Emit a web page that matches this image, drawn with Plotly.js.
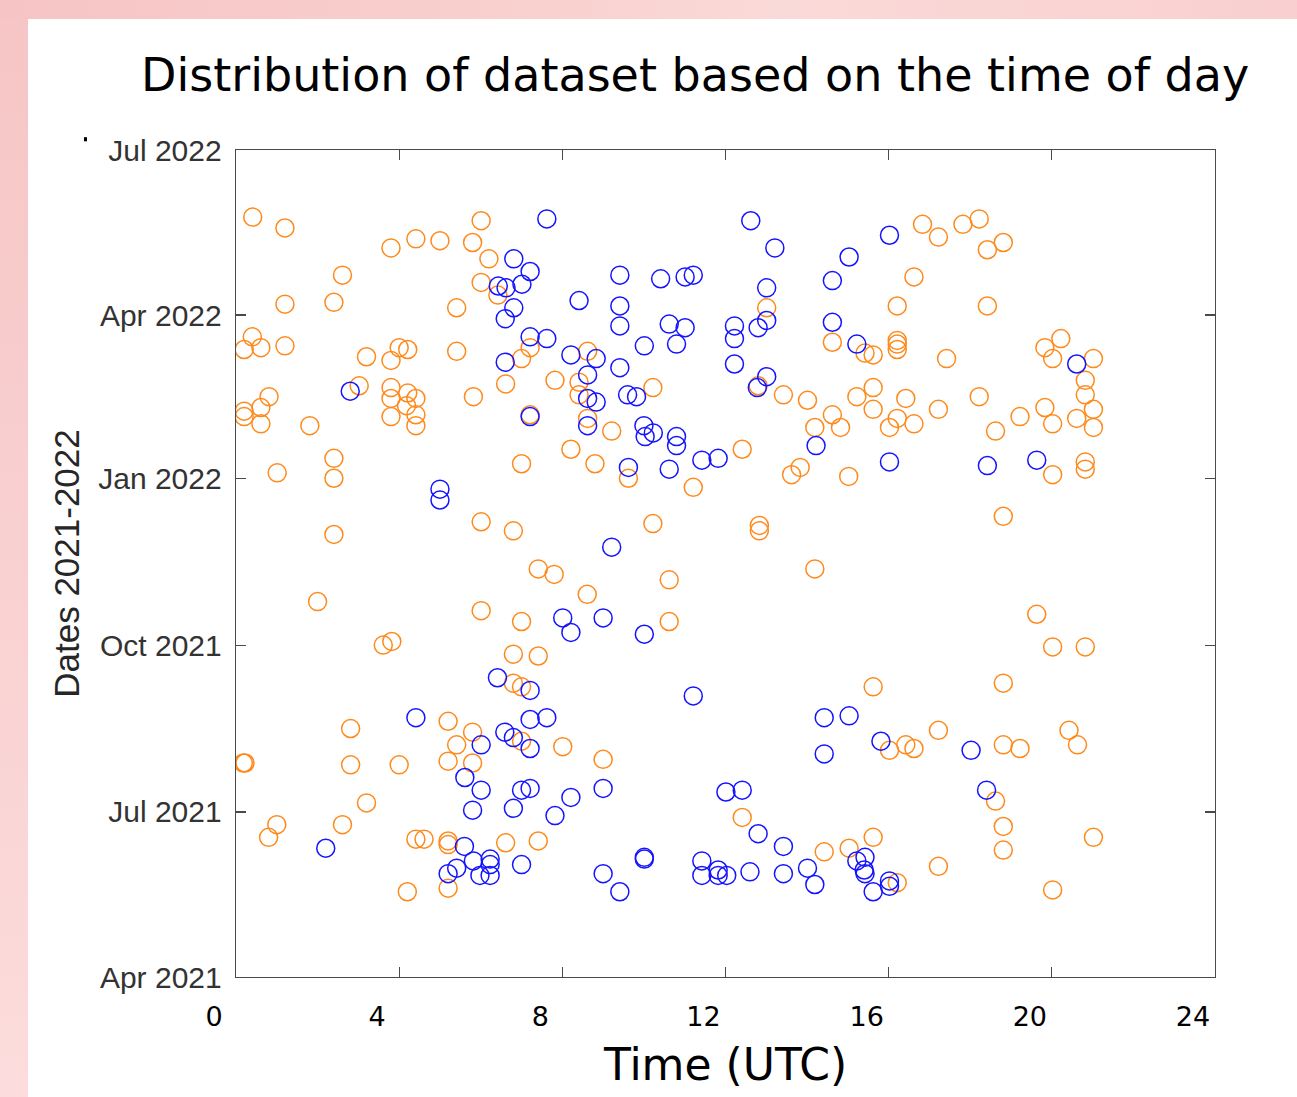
<!DOCTYPE html>
<html>
<head>
<meta charset="utf-8">
<script src="https://cdn.plot.ly/plotly-3.0.1.min.js"></script>
<style>
  html, body { margin: 0; padding: 0; width: 1297px; height: 1097px; overflow: hidden; }
  body {
    background:
      linear-gradient(to right, #f6c4c4 0%, #f9d2d0 45%, #fadad8 60%, #f9cfcf 100%) top left / 100% 19px no-repeat,
      linear-gradient(to bottom, #f6c5c5 0%, #f9d0d0 50%, #fcdcdc 100%);
  }
  #chart { position: absolute; left: 28px; top: 19px; width: 1269px; height: 1078px; background: #fff; }
</style>
</head>
<body>
<div id="chart"></div>
<script>
// Observation times (hours, UTC) and dates for the two groups of records
const orangeHours = [
  0.41, 1.20, 3.80, 4.41, 5.00, 5.80, 6.01, 6.20, 2.61, 6.01, 6.42, 1.20, 2.40, 5.41,
  0.40, 0.20, 0.61, 1.20, 3.20, 3.80, 4.00, 4.21, 5.41, 7.00, 7.21, 6.61, 3.02, 3.80,
  3.80, 4.21, 4.41, 4.18, 4.41, 3.80, 4.41, 5.82, 0.81, 0.61, 0.20, 0.20, 0.61, 1.81,
  7.21, 8.62, 7.82, 8.41, 8.41, 10.22, 13.01, 12.80, 13.42, 14.01, 14.19, 8.62, 9.21,
  16.83, 17.22, 17.82, 18.22, 18.42, 18.81, 16.62, 16.21, 18.42, 14.62, 15.42, 15.62,
  16.21, 16.21, 16.21, 17.42, 19.83, 20.22, 20.02, 21.02, 20.82, 20.82, 21.02, 21.02,
  20.61, 20.02, 19.83, 19.22, 18.62, 18.22, 17.22, 16.42, 16.62, 16.21, 16.02, 15.62,
  15.22, 15.62, 14.82, 14.62, 8.21, 7.00, 8.80, 9.62, 11.21, 12.41, 13.62, 13.83,
  10.22, 12.83, 12.83, 7.41, 7.80, 14.19, 10.62, 8.61, 10.62, 7.41, 15.02, 20.02,
  20.82, 20.82, 18.81, 19.63, 20.02, 20.82, 18.81, 1.01, 2.40, 2.40, 6.01, 6.80, 2.40,
  2.00, 6.01, 7.00, 3.61, 3.82, 6.80, 6.80, 7.00, 5.20, 2.81, 5.80, 5.41, 7.00, 0.18,
  0.22, 2.81, 4.00, 5.20, 5.80, 3.20, 1.00, 0.80, 2.61, 4.41, 4.61, 5.20, 5.20, 6.61,
  7.41, 5.20, 4.20, 8.01, 9.00, 12.41, 15.62, 16.02, 16.42, 16.62, 17.22, 18.81, 19.22,
  20.42, 20.63, 18.62, 18.81, 18.81, 21.02, 20.02, 17.22, 15.62, 15.03, 14.42, 16.21
];
const orangeDates = [
  '2022-05-25', '2022-05-19', '2022-05-08', '2022-05-13', '2022-05-12', '2022-05-11', '2022-05-23',
  '2022-05-02', '2022-04-23', '2022-04-19', '2022-04-12', '2022-04-07', '2022-04-08', '2022-04-05',
  '2022-03-20', '2022-03-13', '2022-03-14', '2022-03-15', '2022-03-09', '2022-03-07', '2022-03-14',
  '2022-03-13', '2022-03-12', '2022-03-08', '2022-03-14', '2022-02-22', '2022-02-21', '2022-02-20',
  '2022-02-14', '2022-02-17', '2022-02-14', '2022-02-10', '2022-02-05', '2022-02-04', '2022-01-30',
  '2022-02-15', '2022-02-15', '2022-02-09', '2022-02-07', '2022-02-04', '2022-01-31', '2022-01-30',
  '2022-02-05', '2022-03-12', '2022-02-24', '2022-02-23', '2022-02-16', '2022-02-20', '2022-04-05',
  '2022-02-21', '2022-02-16', '2022-02-13', '2022-01-29', '2022-02-03', '2022-01-27',
  '2022-05-21', '2022-05-14', '2022-05-21', '2022-05-24', '2022-05-07', '2022-05-11', '2022-04-22',
  '2022-04-06', '2022-04-06', '2022-03-17', '2022-03-11', '2022-03-10', '2022-03-18', '2022-03-16',
  '2022-03-13', '2022-03-08', '2022-03-14', '2022-03-19', '2022-03-08', '2022-03-08', '2022-02-24',
  '2022-02-16', '2022-02-08', '2022-01-29', '2022-02-03', '2022-01-31', '2022-02-09', '2022-02-04',
  '2022-01-27', '2022-02-15', '2022-02-08', '2022-02-14', '2022-01-31', '2022-02-03', '2022-01-29',
  '2022-02-20', '2022-02-15', '2022-02-08', '2022-01-29', '2022-02-05', '2022-01-17', '2022-01-09',
  '2022-01-09', '2022-01-01', '2021-12-27', '2022-01-17', '2022-01-03', '2022-01-07', '2021-12-07',
  '2021-12-06', '2021-12-03', '2021-11-12', '2021-11-09', '2021-11-12', '2021-11-06', '2021-10-29',
  '2021-10-14', '2021-09-25', '2022-01-02', '2022-01-03', '2022-01-10', '2022-01-06', '2021-12-11',
  '2021-10-18', '2021-09-30', '2021-09-30', '2021-09-10', '2022-01-04', '2022-01-12', '2022-01-01',
  '2021-12-08', '2021-12-03', '2021-12-01', '2021-10-25', '2021-10-20', '2021-10-14', '2021-10-01',
  '2021-10-03', '2021-09-26', '2021-09-10', '2021-09-08', '2021-08-20', '2021-08-16', '2021-08-14',
  '2021-08-07', '2021-08-09', '2021-07-28', '2021-07-28', '2021-07-27', '2021-07-27', '2021-07-29',
  '2021-07-28', '2021-07-06', '2021-06-24', '2021-06-17', '2021-06-24', '2021-06-16', '2021-06-16',
  '2021-06-15', '2021-06-13', '2021-06-14', '2021-06-15', '2021-05-20', '2021-05-18', '2021-08-06',
  '2021-07-30', '2021-06-28', '2021-09-08', '2021-08-04', '2021-08-07', '2021-08-05', '2021-08-15',
  '2021-08-07', '2021-08-05', '2021-08-15', '2021-08-07', '2021-07-07', '2021-06-23', '2021-06-10',
  '2021-06-17', '2021-05-19', '2021-06-01', '2021-06-17', '2021-06-11', '2021-06-09', '2021-05-23'
];

const blueHours = [
  6.81, 6.43, 6.62, 7.01, 7.21, 6.81, 6.60, 6.60, 2.80, 7.21, 7.21, 7.62, 12.62, 13.21,
  9.41, 10.41, 11.01, 11.21, 13.01, 8.41, 9.41, 9.41, 13.01, 12.80, 12.22, 12.22, 10.62,
  11.01, 10.80, 10.01, 12.22, 7.62, 8.21, 8.83, 9.41, 8.62, 8.62, 8.83, 9.60, 9.82,
  13.01, 12.78, 14.22, 8.62, 10.00, 10.03, 10.23, 10.80, 10.80, 16.02, 15.03, 14.62,
  14.62, 15.22, 20.61, 9.62, 10.62, 11.42, 11.82, 16.02, 18.42, 19.63, 5.00, 5.00,
  9.21, 8.01, 8.21, 9.00, 10.01, 6.41, 7.21, 4.41, 6.01, 6.59, 6.80, 7.21, 7.62, 7.21,
  5.61, 6.01, 5.80, 6.80, 7.00, 7.21, 9.00, 8.21, 7.82, 11.21, 14.42, 14.42, 15.03,
  15.81, 18.02, 18.40, 12.01, 12.41, 12.80, 13.42, 2.20, 5.60, 5.82, 6.23, 6.23, 5.41,
  5.20, 5.98, 6.23, 7.00, 9.00, 9.41, 10.01, 10.01, 11.42, 11.42, 11.82, 11.82, 12.03,
  12.60, 13.42, 14.01, 14.19, 15.22, 15.42, 15.40, 15.42, 16.02, 16.02, 15.62
];
const blueDates = [
  '2022-05-02', '2022-04-17', '2022-04-16', '2022-04-18', '2022-04-25', '2022-04-05', '2022-03-30',
  '2022-03-06', '2022-02-18', '2022-03-20', '2022-02-04', '2022-05-24', '2022-05-23', '2022-05-08',
  '2022-04-23', '2022-04-21', '2022-04-22', '2022-04-23', '2022-04-16', '2022-04-09', '2022-04-06',
  '2022-03-26', '2022-03-29', '2022-03-25', '2022-03-26', '2022-03-19', '2022-03-27', '2022-03-25',
  '2022-03-16', '2022-03-15', '2022-03-05', '2022-03-19', '2022-03-10', '2022-03-08', '2022-03-03',
  '2022-02-27', '2022-02-14', '2022-02-12', '2022-02-16', '2022-02-15', '2022-02-26', '2022-02-20',
  '2022-01-19', '2022-01-30', '2022-01-30', '2022-01-24', '2022-01-26', '2022-01-24', '2022-01-19',
  '2022-05-15', '2022-05-03', '2022-04-20', '2022-03-28', '2022-03-16', '2022-03-05', '2022-01-07',
  '2022-01-06', '2022-01-11', '2022-01-12', '2022-01-10', '2022-01-08', '2022-01-11', '2021-12-26',
  '2021-12-20', '2021-11-24', '2021-10-16', '2021-10-08', '2021-10-16', '2021-10-07', '2021-09-13',
  '2021-09-06', '2021-08-22', '2021-08-07', '2021-08-14', '2021-08-11', '2021-08-21', '2021-08-22',
  '2021-08-05', '2021-07-20', '2021-07-13', '2021-07-02', '2021-07-03', '2021-07-13', '2021-07-14',
  '2021-07-14', '2021-07-09', '2021-06-29', '2021-09-03', '2021-08-22', '2021-08-02', '2021-08-23',
  '2021-08-09', '2021-08-04', '2021-07-13', '2021-07-12', '2021-07-13', '2021-06-19', '2021-06-12',
  '2021-06-11', '2021-06-12', '2021-06-04', '2021-06-05', '2021-06-02', '2021-05-31', '2021-05-28',
  '2021-05-27', '2021-05-27', '2021-06-02', '2021-05-28', '2021-05-18', '2021-06-06', '2021-06-05',
  '2021-06-04', '2021-05-27', '2021-05-30', '2021-05-27', '2021-05-27', '2021-05-29', '2021-05-28',
  '2021-05-31', '2021-05-22', '2021-06-04', '2021-06-06', '2021-05-30', '2021-05-28', '2021-05-24',
  '2021-05-21', '2021-05-18'
];

// Axis ticks
const hourTicks = [0, 4, 8, 12, 16, 20, 24];
const dateTicks = ['2021-04-01', '2021-07-01', '2021-10-01', '2022-01-01', '2022-04-01', '2022-07-01'];
const dateRange = ['2021-04-01', '2022-07-01'];

const gothic = '"DejaVu Sans", "Open Sans", sans-serif';
const helv = '"Liberation Sans", Arial, sans-serif';
const frame = '#4a4a4a';

function ring(xs, ys, color) {
  return {
    type: 'scatter', mode: 'markers', x: xs, y: ys, hoverinfo: 'x+y',
    marker: { symbol: 'circle-open', size: 18, color: color, line: { width: 1.5, color: color } }
  };
}

const traces = [
  ring(orangeHours, orangeDates, '#ff8a1c'),
  ring(blueHours, blueDates, '#1414ff')
];

const layout = {
  width: 1269, height: 1078,
  margin: { l: 208, r: 82, t: 131, b: 120, pad: 0 },
  paper_bgcolor: '#ffffff', plot_bgcolor: '#ffffff',
  showlegend: false,
  title: {
    text: 'Distribution of dataset based on the time of day',
    font: { family: gothic, size: 46, color: '#000000' },
    xref: 'paper', x: 0.469, xanchor: 'center',
    yref: 'container', y: 0.948, yanchor: 'middle'
  },
  xaxis: {
    range: [0, 24], tickvals: hourTicks, ticktext: hourTicks.map(String),
    ticks: 'inside', ticklen: 10, tickwidth: 1.2, tickcolor: frame,
    showline: true, linecolor: frame, linewidth: 1.3, mirror: 'ticks',
    showgrid: false, zeroline: false,
    ticklabelshift: -22, ticklabelstandoff: 15,
    tickfont: { family: gothic, size: 27, color: '#000000' },
    title: { text: 'Time (UTC)', font: { family: gothic, size: 44, color: '#000000' }, standoff: 18 }
  },
  yaxis: {
    type: 'date', range: dateRange, tickvals: dateTicks, tickformat: '%b %Y',
    ticks: 'inside', ticklen: 10, tickwidth: 1.2, tickcolor: frame,
    showline: true, linecolor: frame, linewidth: 1.3, mirror: 'ticks',
    showgrid: false, zeroline: false,
    ticklabelstandoff: 7,
    tickfont: { family: helv, size: 30, color: '#333333' },
    title: { text: 'Dates 2021-2022', font: { family: helv, size: 35, color: '#262626' }, standoff: 8 }
  },
  shapes: [
    { type: 'rect', xref: 'paper', yref: 'paper', x0: -0.1553, x1: -0.1522, y0: 1.0105, y1: 1.0155,
      fillcolor: '#000000', line: { width: 0 } }
  ]
};

Plotly.newPlot('chart', traces, layout, { displayModeBar: false, staticPlot: true });
</script>
</body>
</html>
